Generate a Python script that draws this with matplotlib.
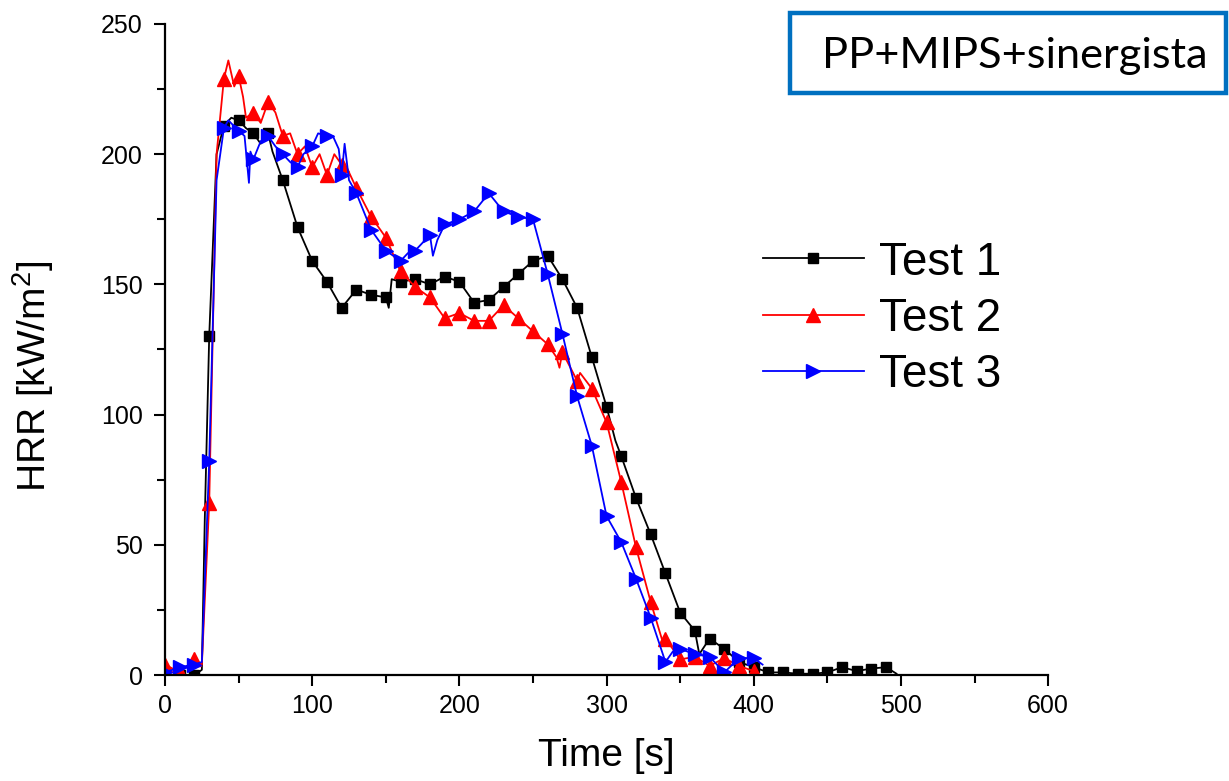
import numpy as np
import matplotlib
matplotlib.use("Agg")
import matplotlib.pyplot as plt
from matplotlib.patches import Rectangle

plt.rcParams["font.family"] = ["Liberation Sans", "DejaVu Sans"]
plt.rcParams["mathtext.fontset"] = "custom"
plt.rcParams["mathtext.rm"] = "Liberation Sans"
plt.rcParams["mathtext.it"] = "Liberation Sans:italic"

# Test 1 (black squares)
t1 = [0, 10, 20, 25, 27, 30, 35, 40, 45, 50, 55, 60, 65, 70, 73, 80, 90, 100, 110, 120,
      130, 140, 150, 152, 154, 160, 170, 180, 190, 200, 210, 220, 230, 240, 250, 260,
      270, 280, 290, 300, 306, 310, 320, 330, 340, 350, 360, 363, 370, 380, 390, 400,
      410, 420, 430, 440, 450, 460, 470, 480, 490, 497]
v1 = [0, 0, 0, 2, 60, 130, 200, 211, 214, 213, 210, 208, 204, 208, 201, 190, 172, 159, 151, 141,
      148, 146, 145, 141, 152, 151, 152, 150, 153, 151, 143, 144, 149, 154, 159, 161,
      152, 141, 122, 103, 90, 84, 68, 54, 39, 24, 17, 8, 14, 10, 5, 3,
      1, 1, 0.5, 0.5, 1, 3, 1.5, 2.5, 3, 0.5]

# Test 2 (red up-triangles)
t2 = [0, 10, 20, 25, 30, 35, 40, 43, 47, 50, 53, 55, 60, 65, 70, 75, 80, 85, 90, 95,
      100, 105, 110, 115, 120, 125, 130, 140, 150, 160, 170, 180, 190, 200, 210, 220,
      230, 240, 250, 260, 266, 268, 270, 280, 282, 290, 300, 310, 320, 330, 338, 340,
      350, 360, 370, 380, 390, 400]
v2 = [4, 1, 6, 4, 66, 200, 229, 236, 226, 230, 222, 214, 216, 212, 220, 216, 207, 208, 200, 203,
      195, 200, 192, 200, 196, 193, 187, 176, 168, 155, 149, 145, 137, 139, 136, 136,
      142, 137, 132, 127, 122, 118, 124, 113, 116, 110, 97, 74, 49, 28, 13, 14,
      6, 7, 3.5, 6.5, 3.5, 1.5]

# Test 3 (blue right-triangles)
t3 = [0, 10, 20, 25, 30, 35, 40, 43, 50, 54, 57, 58, 60, 65, 70, 75, 80, 85, 90, 94,
      100, 104, 110, 114, 118, 120, 122, 125, 130, 140, 150, 160, 165, 170, 180, 182,
      185, 190, 200, 210, 220, 230, 240, 250, 260, 270, 280, 290, 300, 310, 320, 330,
      340, 345, 350, 360, 370, 380, 390, 400, 406]
v3 = [1, 3, 4, 5, 82, 190, 210, 213, 209, 207, 189, 201, 198, 205, 207, 203, 200, 197, 195, 200,
      203, 208, 207, 207, 202, 192, 204, 190, 185, 171, 163, 159, 162, 163, 169, 161,
      167, 173, 175, 178, 185, 178, 176, 175, 154, 131, 107, 88, 61, 51, 37, 22,
      5, 9, 10, 8, 7, 1, 6.5, 6.5, 4]

series = [
    (t1, v1, "black", "s", 7.5, "Test 1"),
    (t2, v2, "#ff0000", "^", 10, "Test 2"),
    (t3, v3, "#0000ff", ">", 10, "Test 3"),
]

fig = plt.figure(figsize=(12.29, 7.81), dpi=100)
ax = fig.add_axes([0.1343, 0.1357, 0.7185, 0.8336])

for t, v, c, m, ms, lab in series:
    t = np.asarray(t)
    ax.plot(t, v, color=c, lw=1.3, marker=m, markersize=ms,
            markevery=list(t % 10 == 0), label=lab)

ax.set_xlim(0, 600)
ax.set_ylim(0, 250)
ax.set_xticks(range(0, 601, 100))
ax.set_xticks(range(50, 600, 100), minor=True)
ax.set_yticks(range(0, 251, 50))
ax.set_yticks(range(25, 250, 50), minor=True)
for s in ("top", "right"):
    ax.spines[s].set_visible(False)
for s in ("left", "bottom"):
    ax.spines[s].set_linewidth(1.6)
ax.tick_params(which="major", direction="out", length=8, width=1.5,
               labelsize=18, pad=6)
ax.tick_params(axis="y", which="major", pad=8)
ax.tick_params(which="minor", direction="out", length=5.5, width=1.5)

ax.set_xlabel("Time [s]", fontsize=28)
ax.xaxis.set_label_coords(0.4994, -0.096)
ax.set_ylabel("HRR [kW/m$^2$]", fontsize=28)
ax.yaxis.set_label_coords(-0.123, 0.459)

leg = ax.legend(loc="center left", bbox_to_anchor=(0.677, 0.547), frameon=False,
                fontsize=33, numpoints=1, handlelength=2.2, handletextpad=0.33,
                labelspacing=0.27, borderpad=0, borderaxespad=0)

# title box in figure pixels
W, H = 1229, 781
box = Rectangle((790 / W, 1 - 93 / H), (1226 - 790) / W, (93 - 13) / H,
                transform=fig.transFigure, fill=False, edgecolor="#0070c0",
                linewidth=3.2, clip_on=False)
fig.patches.append(box)
fig.text((825 + 1205) / 2 / W, 1 - 56 / H, "PP+MIPS+sinergista", family="Lato",
         fontsize=31.2, ha="center", va="center")

fig.savefig("out.png", dpi=100)
